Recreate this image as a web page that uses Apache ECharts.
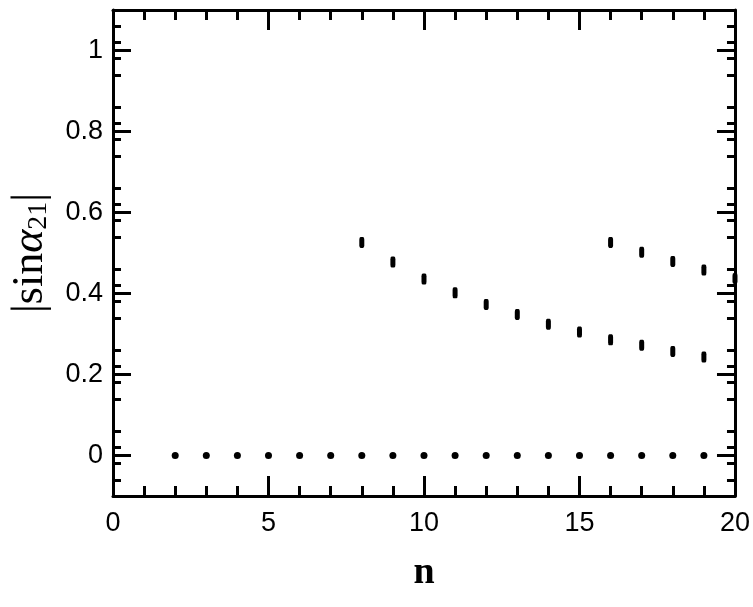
<!DOCTYPE html>
<html>
<head>
<meta charset="utf-8">
<script src="https://cdn.jsdelivr.net/npm/echarts@6/dist/echarts.min.js"></script>
<style>
  html, body { margin: 0; padding: 0; background: #fff; }
  #main { width: 753px; height: 607px; }
</style>
</head>
<body>
<div id="main"></div>
<script>
// n = 2..19, all zero
var zeroN = [2, 3, 4, 5, 6, 7, 8, 9, 10, 11, 12, 13, 14, 15, 16, 17, 18, 19];
var zeroVal = [0, 0, 0, 0, 0, 0, 0, 0, 0, 0, 0, 0, 0, 0, 0, 0, 0, 0];

// lower branch
var lowN = [8, 9, 10, 11, 12, 13, 14, 15, 16, 17, 18, 19];
var lowVal = [0.526, 0.478, 0.436, 0.402, 0.373, 0.348, 0.324, 0.305, 0.286, 0.272, 0.257, 0.243];

// upper branch
var highN = [16, 17, 18, 19, 20];
var highVal = [0.526, 0.502, 0.479, 0.458, 0.437];

var xTicks = [0, 5, 10, 15, 20];
var yTicks = [0, 0.2, 0.4, 0.6, 0.8, 1];

function pairs(xs, ys) {
  var out = [];
  for (var i = 0; i < xs.length; i++) {
    out.push([xs[i], ys[i]]);
  }
  return out;
}

var chart = echarts.init(document.getElementById('main'), null, { renderer: 'canvas' });

var serif = 'Liberation Serif, Times New Roman, serif';
var lineStyle = { color: '#000', width: 3 };
var labelFont = { color: '#000', fontSize: 27, fontFamily: 'Liberation Sans, Arial, sans-serif' };

function xAxis(pos, show) {
  return {
    type: 'value',
    position: pos,
    min: 0,
    max: 20,
    interval: 5,
    axisLine: { show: true, onZero: false, lineStyle: lineStyle },
    axisTick: { show: true, inside: true, length: 20, lineStyle: lineStyle },
    minorTick: { show: true, splitNumber: 5, length: 10, lineStyle: lineStyle },
    splitLine: { show: false },
    axisLabel: show ? Object.assign({ margin: 14, formatter: function (v) {
      return xTicks.indexOf(v) >= 0 ? String(v) : '';
    } }, labelFont) : { show: false }
  };
}

function yAxis(pos, show) {
  return {
    type: 'value',
    position: pos,
    min: -0.1,
    max: 1.1,
    interval: 0.2,
    axisLine: { show: true, onZero: false, lineStyle: lineStyle },
    axisTick: { show: true, inside: true, length: 18, lineStyle: lineStyle,
      customValues: yTicks },
    minorTick: { show: true, splitNumber: 5, length: 8, lineStyle: lineStyle },
    splitLine: { show: false },
    axisLabel: show ? Object.assign({ margin: 10, customValues: yTicks, formatter: function (v) {
      return String(Math.round(v * 10) / 10);
    } }, labelFont) : { show: false }
  };
}

var xBottom = xAxis('bottom', true);
xBottom.name = 'n';
xBottom.nameLocation = 'middle';
xBottom.nameGap = 58;
xBottom.nameTextStyle = { color: '#000', fontSize: 38, fontWeight: 'bold', fontFamily: serif };

var yLeft = yAxis('left', true);
yLeft.name = '{t||sin}{a|α}{s|21}{t||}';
yLeft.nameLocation = 'middle';
yLeft.nameGap = 60;
yLeft.nameTextStyle = {
  color: '#000',
  fontFamily: serif,
  rich: {
    t: { fontSize: 44, fontFamily: serif, color: '#000' },
    a: { fontSize: 44, fontStyle: 'italic', fontFamily: serif, color: '#000' },
    s: { fontSize: 28, fontFamily: serif, color: '#000', padding: [18, 0, 0, 0] }
  }
};

var option = {
  backgroundColor: '#ffffff',
  animation: false,
  grid: { left: 112, right: 18, top: 10, bottom: 111 },
  xAxis: [xBottom, xAxis('top', false)],
  yAxis: [yLeft, yAxis('right', false)],
  series: [
    {
      type: 'scatter',
      data: pairs(zeroN, zeroVal),
      symbol: 'circle',
      symbolSize: 7,
      itemStyle: { color: '#000', opacity: 1 }
    },
    {
      type: 'scatter',
      data: pairs(lowN, lowVal),
      symbol: 'roundRect',
      symbolSize: [5, 11],
      itemStyle: { color: '#000', opacity: 1 }
    },
    {
      type: 'scatter',
      data: pairs(highN, highVal),
      symbol: 'roundRect',
      symbolSize: [5, 11],
      clip: false,
      itemStyle: { color: '#000', opacity: 1 }
    }
  ]
};

chart.setOption(option);
</script>
</body>
</html>
